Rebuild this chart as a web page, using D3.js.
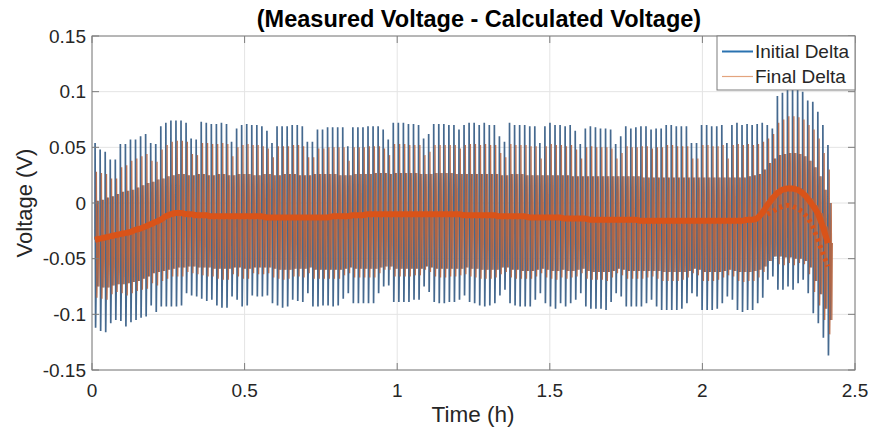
<!DOCTYPE html>
<html><head><meta charset="utf-8">
<script src="https://cdn.jsdelivr.net/npm/d3@7"></script>
<style>body{margin:0;background:#fff} svg{display:block} text{font-family:"Liberation Sans",Arial,Helvetica,sans-serif}</style>
</head><body><svg id="c" width="871" height="432"></svg>
<script>
// ---- data ----
const titleText = "(Measured Voltage - Calculated Voltage)";
const xLabel = "Time (h)";
const yLabel = "Voltage (V)";
const seriesNames = ["Initial Delta", "Final Delta"];
const xTicks = [0, 0.5, 1, 1.5, 2, 2.5];
const xTickLabels = ["0", "0.5", "1", "1.5", "2", "2.5"];
const yTicks = [-0.15, -0.1, -0.05, 0, 0.05, 0.1, 0.15];
const yTickLabels = ["-0.15", "-0.1", "-0.05", "0", "0.05", "0.1", "0.15"];
// one pulse about every minute
const firstPulseHour = 0.0098, pulsePeriodHour = 0.01656;

// Initial Delta: peak and trough of each pulse (V)
const initHigh = [
 .054,.048,.046,.039,.039,.053,.053,.057,.057,.060,
 .062,.054,.053,.069,.072,.074,.074,.074,.072,.058,
 .057,.073,.072,.071,.071,.072,.071,.055,.067,.070,
 .071,.070,.070,.069,.065,.054,.069,.069,.069,.070,
 .070,.069,.055,.055,.066,.066,.068,.068,.068,.068,
 .051,.068,.068,.068,.069,.069,.069,.066,.057,.072,
 .072,.072,.071,.071,.070,.058,.062,.071,.071,.071,
 .070,.070,.066,.070,.072,.072,.070,.072,.070,.070,
 .060,.055,.072,.070,.070,.070,.069,.069,.054,.069,
 .072,.070,.070,.069,.070,.065,.053,.067,.069,.068,
 .067,.067,.066,.053,.060,.069,.067,.068,.069,.069,
 .066,.067,.067,.070,.070,.069,.069,.069,.054,.054,
 .070,.070,.069,.069,.070,.054,.070,.072,.070,.071,
 .070,.071,.072,.070,.067,.096,.099,.102,.102,.102,
 .100,.092,.091,.082,.070,.052];
const initLow = [
 -.112,-.115,-.116,-.108,-.105,-.106,-.111,-.107,-.105,-.103,
 -.102,-.092,-.098,-.093,-.093,-.093,-.093,-.092,-.081,-.083,
 -.084,-.086,-.088,-.087,-.092,-.094,-.094,-.084,-.087,-.093,
 -.092,-.083,-.084,-.084,-.083,-.090,-.092,-.094,-.093,-.087,
 -.088,-.089,-.081,-.093,-.093,-.092,-.092,-.093,-.092,-.086,
 -.081,-.090,-.090,-.090,-.090,-.090,-.081,-.075,-.074,-.089,
 -.089,-.089,-.089,-.087,-.087,-.075,-.080,-.089,-.090,-.090,
 -.089,-.089,-.087,-.083,-.089,-.090,-.092,-.093,-.092,-.090,
 -.083,-.078,-.090,-.092,-.093,-.093,-.093,-.087,-.081,-.090,
 -.093,-.095,-.090,-.093,-.090,-.087,-.081,-.093,-.095,-.095,
 -.095,-.096,-.089,-.081,-.084,-.093,-.093,-.093,-.093,-.090,
 -.087,-.093,-.096,-.096,-.096,-.096,-.095,-.090,-.081,-.084,
 -.096,-.096,-.096,-.095,-.090,-.084,-.087,-.096,-.098,-.096,
 -.096,-.090,-.085,-.069,-.066,-.078,-.078,-.075,-.078,-.072,
 -.069,-.081,-.099,-.108,-.121,-.137];
// Final Delta: peak and trough of each pulse (V)
const finalHigh = [
 .028,.027,.026,.022,.022,.032,.034,.038,.040,.042,
 .044,.038,.037,.048,.052,.055,.056,.056,.055,.044,
 .043,.054,.054,.053,.053,.054,.053,.042,.050,.052,
 .053,.052,.052,.051,.049,.041,.051,.051,.051,.052,
 .052,.051,.041,.041,.049,.049,.050,.050,.050,.050,
 .038,.050,.050,.050,.051,.051,.051,.049,.043,.053,
 .053,.053,.052,.052,.052,.043,.046,.052,.052,.052,
 .052,.052,.049,.052,.053,.053,.052,.053,.052,.052,
 .045,.041,.053,.052,.052,.052,.051,.051,.040,.051,
 .053,.052,.052,.051,.052,.048,.040,.050,.051,.050,
 .050,.050,.049,.040,.045,.051,.050,.050,.051,.051,
 .049,.050,.050,.052,.052,.051,.051,.051,.040,.040,
 .052,.052,.051,.051,.052,.040,.052,.053,.052,.053,
 .052,.053,.055,.058,.062,.072,.075,.078,.078,.077,
 .075,.070,.066,.058,.045,.030];
const finalLow = [
 -.085,-.086,-.087,-.082,-.080,-.081,-.083,-.081,-.079,-.078,
 -.077,-.072,-.074,-.070,-.068,-.066,-.066,-.066,-.062,-.063,
 -.064,-.065,-.066,-.066,-.068,-.069,-.069,-.064,-.066,-.068,
 -.068,-.063,-.064,-.064,-.063,-.067,-.068,-.069,-.068,-.066,
 -.066,-.067,-.063,-.068,-.068,-.068,-.068,-.068,-.068,-.065,
 -.063,-.067,-.067,-.067,-.067,-.067,-.063,-.060,-.060,-.066,
 -.066,-.066,-.066,-.065,-.065,-.060,-.062,-.066,-.067,-.067,
 -.066,-.066,-.065,-.064,-.066,-.067,-.068,-.068,-.068,-.067,
 -.064,-.062,-.067,-.068,-.068,-.068,-.068,-.066,-.063,-.067,
 -.068,-.069,-.067,-.068,-.067,-.066,-.063,-.068,-.069,-.069,
 -.069,-.070,-.067,-.063,-.065,-.068,-.068,-.068,-.068,-.067,
 -.066,-.068,-.070,-.070,-.070,-.070,-.069,-.067,-.063,-.065,
 -.070,-.070,-.070,-.069,-.067,-.065,-.066,-.070,-.071,-.070,
 -.070,-.067,-.062,-.052,-.048,-.055,-.056,-.054,-.056,-.054,
 -.055,-.064,-.080,-.092,-.105,-.118];
// smaller secondary excursion of each pulse (dense band), V
const bandHigh = [
 .002,.003,.005,.006,.008,.010,.011,.012,.014,.016,
 .018,.019,.021,.022,.024,.025,.026,.026,.025,.025,
 .026,.026,.025,.025,.026,.026,.025,.025,.026,.026,
 .026,.025,.025,.026,.026,.025,.025,.026,.026,.026,
 .025,.025,.025,.026,.026,.026,.026,.026,.025,.025,
 .025,.026,.026,.026,.026,.027,.027,.027,.026,.027,
 .027,.027,.027,.027,.026,.026,.026,.027,.027,.027,
 .027,.026,.026,.026,.026,.026,.026,.026,.026,.026,
 .025,.025,.026,.026,.026,.025,.025,.025,.025,.025,
 .025,.025,.025,.025,.024,.024,.024,.024,.024,.024,
 .024,.024,.024,.024,.024,.024,.024,.024,.023,.023,
 .023,.023,.023,.023,.023,.023,.023,.023,.023,.023,
 .023,.023,.023,.023,.023,.023,.023,.023,.023,.024,
 .025,.026,.030,.036,.040,.043,.044,.045,.045,.044,
 .042,.038,.032,.024,.012,.000];
const bandLow = [
 -.075,-.076,-.076,-.074,-.073,-.073,-.072,-.071,-.070,-.068,
 -.066,-.063,-.062,-.061,-.060,-.059,-.058,-.058,-.057,-.057,
 -.058,-.058,-.058,-.059,-.059,-.059,-.059,-.058,-.058,-.059,
 -.059,-.058,-.058,-.058,-.058,-.059,-.060,-.060,-.060,-.059,
 -.059,-.059,-.058,-.060,-.060,-.060,-.060,-.060,-.060,-.059,
 -.058,-.059,-.059,-.059,-.059,-.059,-.058,-.057,-.057,-.059,
 -.059,-.059,-.059,-.059,-.059,-.057,-.058,-.059,-.059,-.059,
 -.059,-.059,-.059,-.058,-.059,-.059,-.060,-.060,-.060,-.060,
 -.058,-.058,-.060,-.060,-.061,-.061,-.061,-.060,-.059,-.060,
 -.061,-.061,-.060,-.061,-.061,-.060,-.059,-.061,-.062,-.062,
 -.062,-.062,-.061,-.059,-.060,-.061,-.061,-.061,-.061,-.061,
 -.061,-.061,-.062,-.062,-.062,-.062,-.062,-.061,-.059,-.060,
 -.062,-.062,-.062,-.062,-.061,-.060,-.061,-.062,-.062,-.062,
 -.061,-.060,-.057,-.052,-.048,-.048,-.049,-.049,-.050,-.050,
 -.052,-.058,-.070,-.082,-.095,-.105];
// resting level between pulses (V)
const restLevel = [
 -.033,-.032,-.031,-.030,-.029,-.028,-.027,-.026,-.024,-.023,
 -.021,-.019,-.017,-.015,-.012,-.010,-.009,-.009,-.010,-.010,
 -.011,-.011,-.011,-.012,-.012,-.012,-.012,-.012,-.012,-.012,
 -.012,-.012,-.012,-.012,-.013,-.013,-.013,-.013,-.013,-.013,
 -.013,-.013,-.013,-.013,-.013,-.013,-.013,-.012,-.012,-.012,
 -.012,-.011,-.011,-.011,-.010,-.010,-.010,-.010,-.010,-.010,
 -.010,-.010,-.010,-.010,-.010,-.010,-.010,-.010,-.010,-.010,
 -.010,-.010,-.010,-.011,-.011,-.011,-.011,-.011,-.011,-.011,
 -.012,-.012,-.012,-.012,-.012,-.012,-.013,-.013,-.013,-.013,
 -.013,-.013,-.013,-.014,-.014,-.014,-.014,-.014,-.015,-.015,
 -.015,-.015,-.015,-.015,-.015,-.015,-.015,-.015,-.016,-.016,
 -.016,-.016,-.016,-.016,-.016,-.016,-.016,-.016,-.016,-.016,
 -.016,-.016,-.016,-.016,-.016,-.016,-.016,-.016,-.016,-.015,
 -.015,-.014,-.009,-.002,.004,.009,.012,.013,.013,.012,
 .009,.004,-.002,-.009,-.021,-.036];
// Final Delta, second (post-pulse) level seen over the last pulses, from pulse 133 on (V)
const lateLevelStart = 133;
const lateLevel = [-.010,-.008,-.005,-.003,-.002,-.003,-.005,-.008,-.013,-.021,-.033,-.045,-.057];

// ---- drawing ----
const svg = d3.select("#c");
const L = 92, R = 855, T = 36, B = 370;
const x = d3.scaleLinear().domain([0, 2.5]).range([L, R]);
const y = d3.scaleLinear().domain([-0.15, 0.15]).range([B, T]);
const times = initHigh.map((_, i) => firstPulseHour + i * pulsePeriodHour);
const axisColor = "#7d7d7d", textColor = "#262626";

svg.append("rect").attr("width", 871).attr("height", 432).attr("fill", "#fff");
svg.append("defs").append("clipPath").attr("id", "clip")
  .append("rect").attr("x", L).attr("y", T).attr("width", R - L).attr("height", B - T);

// grid
const grid = svg.append("g").attr("stroke", "#e4e4e4").attr("stroke-width", 1);
xTicks.forEach(v => grid.append("line").attr("x1", x(v)).attr("x2", x(v)).attr("y1", T).attr("y2", B));
yTicks.forEach(v => grid.append("line").attr("x1", L).attr("x2", R).attr("y1", y(v)).attr("y2", y(v)));

// series
const plot = svg.append("g").attr("clip-path", "url(#clip)");
const line = d3.line().x(d => d[0]).y(d => d[1]);
function pulsePath(hi, lo, off) {
  const pts = [];
  times.forEach((t, i) => {
    const xs = x(t) + off;
    pts.push([xs, y(restLevel[i])]);
    pts.push([xs + 0.1, y(hi[i])]);
    pts.push([xs + 0.6, y(lo[i])]);
    pts.push([xs + 2.1, y(bandHigh[i])]);
    pts.push([xs + 2.7, y(bandLow[i])]);
    pts.push([xs + 3.2, y(restLevel[i])]);
  });
  return pts;
}
plot.append("path").attr("d", line(pulsePath(initHigh, initLow, 0)))
  .attr("fill", "none").attr("stroke", "#45698f").attr("stroke-width", 1.7);
plot.append("path").attr("d", line(pulsePath(finalHigh, finalLow, 1.3)))
  .attr("fill", "none").attr("stroke", "#b8653f").attr("stroke-width", 1.3).attr("stroke-opacity", 0.9);
plot.append("path").attr("d", d3.line().x((d, i) => x(times[i + lateLevelStart])).y(d => y(d))(lateLevel))
  .attr("fill", "none").attr("stroke", "#d95319").attr("stroke-width", 5).attr("stroke-dasharray", "3,4");
plot.append("path").attr("d", d3.line().x((d, i) => x(times[i])).y(d => y(d))(restLevel))
  .attr("fill", "none").attr("stroke", "#d95319").attr("stroke-width", 6).attr("stroke-linejoin", "round");

// axes box and ticks
const ax = svg.append("g").attr("stroke", axisColor).attr("stroke-width", 1);
ax.append("rect").attr("x", L).attr("y", T).attr("width", R - L).attr("height", B - T).attr("fill", "none");
const tl = 7;
xTicks.forEach(v => {
  ax.append("line").attr("x1", x(v)).attr("x2", x(v)).attr("y1", B).attr("y2", B - tl);
  ax.append("line").attr("x1", x(v)).attr("x2", x(v)).attr("y1", T).attr("y2", T + tl);
});
yTicks.forEach(v => {
  ax.append("line").attr("x1", L).attr("x2", L + tl).attr("y1", y(v)).attr("y2", y(v));
  ax.append("line").attr("x1", R).attr("x2", R - tl).attr("y1", y(v)).attr("y2", y(v));
});

// tick labels
const lab = svg.append("g").attr("fill", textColor).attr("font-size", 19);
xTicks.forEach((v, i) => lab.append("text").attr("x", x(v)).attr("y", 397).attr("text-anchor", "middle").text(xTickLabels[i]));
yTicks.forEach((v, i) => lab.append("text").attr("x", 86).attr("y", y(v) + 6.5).attr("text-anchor", "end").text(yTickLabels[i]));

// axis labels & title
svg.append("text").attr("x", 473).attr("y", 422).attr("text-anchor", "middle")
  .attr("font-size", 22.5).attr("fill", textColor).text(xLabel);
svg.append("text").attr("transform", `translate(32,${(T + B) / 2}) rotate(-90)`).attr("text-anchor", "middle")
  .attr("font-size", 22).attr("fill", textColor).text(yLabel);
svg.append("text").attr("x", 479).attr("y", 27).attr("text-anchor", "middle")
  .attr("font-size", 23.5).attr("font-weight", "bold").attr("fill", "#000").text(titleText);

// legend
const lg = svg.append("g");
lg.append("rect").attr("x", 717).attr("y", T).attr("width", R - 717).attr("height", 54)
  .attr("fill", "#fff").attr("stroke", axisColor).attr("stroke-width", 1);
const legColors = ["#2a72b0", "#e3a47e"], legWidths = [2, 1.2];
seriesNames.forEach((n, i) => {
  const yy = T + 15.5 + i * 25;
  lg.append("line").attr("x1", 722).attr("x2", 753).attr("y1", yy).attr("y2", yy)
    .attr("stroke", legColors[i]).attr("stroke-width", legWidths[i]);
  lg.append("text").attr("x", 755).attr("y", yy + 6.5).attr("font-size", 19).attr("fill", textColor).text(n);
});
</script>
</body></html>
